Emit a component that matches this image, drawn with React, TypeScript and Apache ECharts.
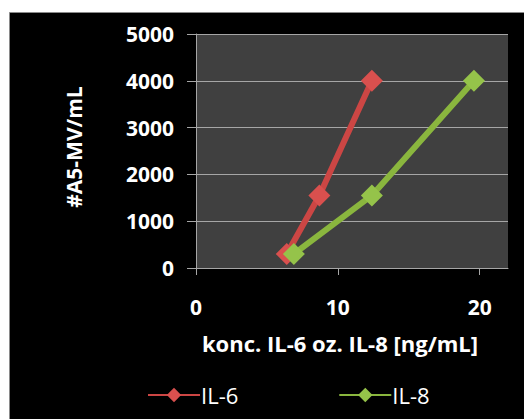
import React, { useEffect, useRef } from "react";
import * as echarts from "echarts";

// concentration (ng/mL) vs. #A5-MV/mL
const il6Conc = [6.4, 8.7, 12.4];
const il6Count = [300, 1550, 4000];
const il8Conc = [6.9, 12.4, 19.6];
const il8Count = [300, 1550, 4000];
const xTicks = [0, 10, 20];

const FONT = "'Open Sans', Lato, sans-serif";

export default function App() {
  const ref = useRef<HTMLDivElement>(null);

  useEffect(() => {
    if (!ref.current) return;
    const chart = echarts.init(ref.current, undefined, { renderer: "svg" });
    const toPairs = (xs: number[], ys: number[]) => xs.map((x, i) => [x, ys[i]]);
    chart.setOption({
      animation: false,
      backgroundColor: "#ffffff",
      graphic: [
        {
          type: "rect",
          z: -10,
          silent: true,
          shape: { x: 9.5, y: 12.5, width: 520, height: 420 },
          style: { fill: "#000000", stroke: "#8a8a8a", lineWidth: 1 },
        },
      ],
      grid: {
        left: 196,
        top: 34,
        right: 16,
        bottom: 151,
        show: true,
        backgroundColor: "#404040",
        borderWidth: 0,
      },
      xAxis: {
        type: "value",
        min: 0,
        max: 22,
        interval: 10,
        name: "konc. IL-6 oz. IL-8 [ng/mL]",
        nameLocation: "middle",
        nameGap: 64,
        nameTextStyle: {
          color: "#ffffff",
          fontFamily: FONT,
          fontWeight: "bold",
          fontSize: 22,
          padding: [0, 24, 0, 0],
        },
        axisLine: { onZero: false, lineStyle: { color: "#a6a6a6", width: 1 } },
        axisTick: { show: true, length: 7, lineStyle: { color: "#a6a6a6" }, customValues: xTicks },
        axisLabel: {
          color: "#ffffff",
          fontFamily: FONT,
          fontWeight: "bold",
          fontSize: 21,
          margin: 28,
          customValues: xTicks,
        },
        splitLine: { show: false },
      },
      yAxis: {
        type: "value",
        min: 0,
        max: 5000,
        interval: 1000,
        name: "#A5-MV/mL",
        nameLocation: "middle",
        nameRotate: 90,
        nameGap: 112,
        nameTextStyle: {
          color: "#ffffff",
          fontFamily: FONT,
          fontWeight: "bold",
          fontSize: 21,
          padding: [0, 0, 0, 8],
        },
        axisLine: { show: true, lineStyle: { color: "#a6a6a6", width: 1 } },
        axisTick: { show: true, length: 9, lineStyle: { color: "#a6a6a6" } },
        axisLabel: {
          color: "#ffffff",
          fontFamily: FONT,
          fontWeight: "bold",
          fontSize: 21,
          margin: 22,
          formatter: (v: number) => String(v),
        },
        splitLine: { show: true, lineStyle: { color: "#a6a6a6", width: 1 } },
      },
      legend: {
        left: 142,
        top: 379,
        itemGap: 100,
        itemWidth: 52,
        itemHeight: 18,
        textStyle: { color: "#ffffff", fontFamily: FONT, fontSize: 22, padding: [0, 0, 0, -4] },
        data: ["IL-6", "IL-8"],
      },
      series: [
        {
          name: "IL-6",
          type: "line",
          data: toPairs(il6Conc, il6Count),
          symbol: "diamond",
          symbolSize: 22,
          color: "#cc4644",
          lineStyle: { width: 6, color: "#cc4644" },
          itemStyle: { color: "#d9504e" },
        },
        {
          name: "IL-8",
          type: "line",
          data: toPairs(il8Conc, il8Count),
          symbol: "diamond",
          symbolSize: 22,
          color: "#8ab63e",
          lineStyle: { width: 6, color: "#8ab63e" },
          itemStyle: { color: "#95c34a" },
        },
      ],
    });
    return () => chart.dispose();
  }, []);

  return (
    <div
      ref={ref}
      style={{ position: "fixed", left: 0, top: 0, width: 524, height: 419 }}
    />
  );
}
